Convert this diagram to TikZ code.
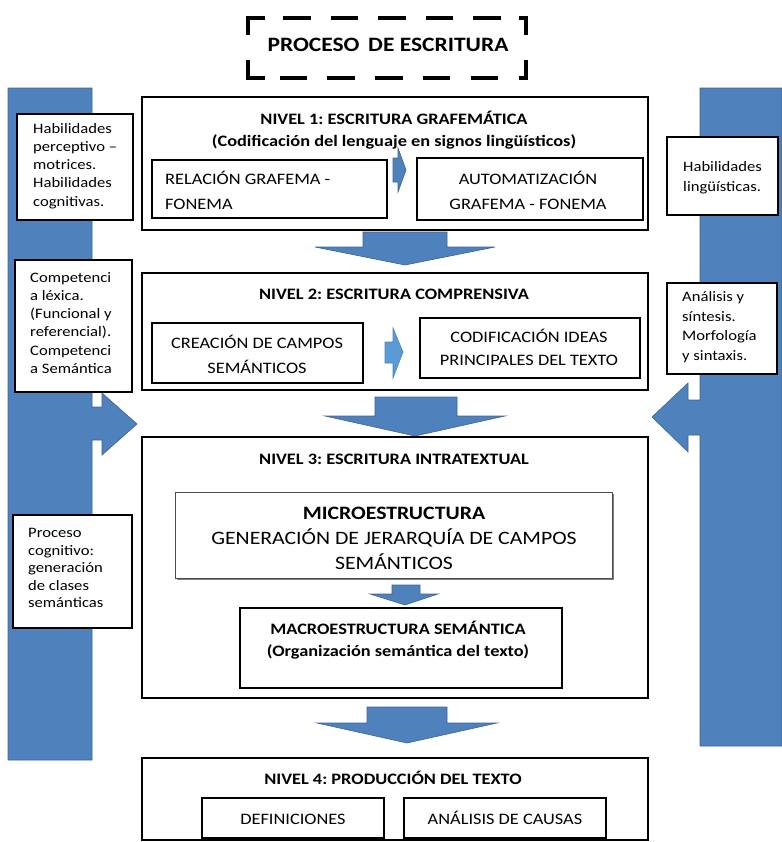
\documentclass[tikz,border=0pt]{standalone}
\usepackage{fontspec}
\setmainfont{Carlito}[FakeStretch=1.15]
\usetikzlibrary{shadows}
\definecolor{barblue}{RGB}{79,129,189}
\definecolor{barline}{RGB}{60,100,150}
\definecolor{lightblue}{RGB}{91,155,213}
\frenchspacing
\begin{document}
\begin{tikzpicture}[x=1bp,y=-1bp,
  lvl/.style={draw=black, line width=2.6bp, anchor=north west, inner sep=0pt, outer sep=0pt},
  inbox/.style={draw=black, line width=1.2bp, anchor=north west, inner sep=0pt, outer sep=0pt},
  thickbox/.style={draw=black, line width=2bp, anchor=north west, inner sep=0pt, outer sep=0pt},
  side/.style={draw=black, line width=1.1bp, fill=white, anchor=north west, inner sep=0pt, outer sep=0pt},
  microbox/.style={draw=black!70, line width=1bp, fill=white, anchor=north west, inner sep=0pt, outer sep=0pt,
    drop shadow={shadow xshift=1.5bp, shadow yshift=-1.5bp, fill=black!50, opacity=1}},
  sidetext/.style={anchor=west, align=left, inner sep=0pt, font=\fontsize{14.5}{18.2}\selectfont},
  lvltitle/.style={anchor=center, inner sep=0pt, font=\fontsize{16}{18}\selectfont\bfseries},
  boxtext/.style={anchor=center, align=center, inner sep=0pt, font=\fontsize{16}{25}\selectfont},
  celltext/.style={anchor=base, inner sep=0pt, font=\fontsize{16}{18}\selectfont},
  blockarrow/.style={fill=barblue, draw=barline, line width=0.6bp, line join=miter},
  smallarrow/.style={fill=lightblue, draw=barblue, line width=0.6bp},
  titledash/.style={line width=3.6bp, black}
]
\useasboundingbox (0,0) rectangle (782,842);

% side bars with their inward arrows
\fill[blockarrow] (8,88) -- (92,88) -- (92,407) -- (102,407) -- (102,393) -- (137,424)
  -- (102,455) -- (102,440) -- (92,440) -- (92,760) -- (8,760) -- cycle;
\fill[blockarrow] (782,88) -- (700,88) -- (700,400) -- (688,400) -- (688,383) -- (652,417)
  -- (688,452) -- (688,435) -- (700,435) -- (700,746) -- (782,746) -- cycle;

% title box: dashed frame with solid corners
\draw[titledash] (248,35) -- (248,18) -- (265,18);
\draw[titledash] (519,18) -- (526,18) -- (526,35);
\draw[titledash] (248,60) -- (248,78) -- (265,78);
\draw[titledash] (519,78) -- (526,78) -- (526,60);
\foreach \a/\b in {283/311, 331/358, 378/406, 426/453, 473/501}
  \draw[titledash] (\a,18) -- (\b,18);
\foreach \a/\b in {280/307, 327/355, 375/403, 423/450, 471/498}
  \draw[titledash] (\a,78) -- (\b,78);
\node[anchor=center, inner sep=0pt, font=\fontsize{20.5}{24}\selectfont\bfseries] (title) at (388,45) {PROCESO\, DE ESCRITURA};

% level frames
\node[lvl, minimum width=506bp, minimum height=133bp] (n1) at (142,97) {};
\node[lvl, minimum width=506bp, minimum height=117bp] (n2) at (142,273) {};
\node[lvl, minimum width=506bp, minimum height=261bp] (n3) at (142,437) {};
\node[lvl, minimum width=506bp, minimum height=82bp] (n4) at (142,758) {};

% level 1
\node[lvltitle] (n1t) at (394,118) {NIVEL 1: ESCRITURA GRAFEMÁTICA};
\node[lvltitle] (n1s) at (394,142) {(Codificación del lenguaje en signos lingüísticos)};
\node[inbox, minimum width=235bp, minimum height=58bp] (rel) at (152,160) {};
\node[anchor=west, align=left, inner sep=0pt, font=\fontsize{16}{25}\selectfont] (relt) at (165,190) {RELACIÓN GRAFEMA -\\FONEMA};
\node[inbox, minimum width=226bp, minimum height=62bp] (auto) at (417,158) {};
\node[boxtext] (autot) at (528,190) {AUTOMATIZACIÓN\\GRAFEMA - FONEMA};
\fill[blockarrow] (393,158) -- (398,158) -- (398,148) -- (406,170) -- (398,192) -- (398,182) -- (393,182) -- cycle;

% level 2
\node[lvltitle] (n2t) at (394,294) {NIVEL 2: ESCRITURA COMPRENSIVA};
\node[inbox, minimum width=211bp, minimum height=60bp] (crea) at (152,323) {};
\node[boxtext] (creat) at (257,354) {CREACIÓN DE CAMPOS\\SEMÁNTICOS};
\node[inbox, minimum width=220bp, minimum height=60bp] (codi) at (420,318) {};
\node[boxtext, font=\fontsize{16}{23}\selectfont] (codit) at (529,347) {CODIFICACIÓN IDEAS\\PRINCIPALES DEL TEXTO};
\fill[smallarrow] (385,342) -- (393,342) -- (393,328) -- (403,352) -- (393,378) -- (393,363) -- (385,363) -- cycle;

% level 3
\node[lvltitle] (n3t) at (394,459) {NIVEL 3: ESCRITURA INTRATEXTUAL};
\node[microbox, minimum width=437bp, minimum height=86bp] (micro) at (175,492) {};
\node[anchor=center, align=center, inner sep=0pt, font=\fontsize{19}{25}\selectfont] (microt) at (394,538)
  {\textbf{MICROESTRUCTURA}\\GENERACIÓN DE JERARQUÍA DE CAMPOS\\SEMÁNTICOS};
\fill[blockarrow] (392,585) -- (420,585) -- (420,594) -- (438,594) -- (405,605) -- (370,594) -- (392,594) -- cycle;
\node[inbox, minimum width=322bp, minimum height=80bp] (macro) at (240,608) {};
\node[anchor=center, align=center, inner sep=0pt, font=\fontsize{16}{22}\selectfont\bfseries] (macrot) at (398,640)
  {MACROESTRUCTURA SEMÁNTICA\\(Organización semántica del texto)};

% level 4
\node[lvltitle] (n4t) at (393,778) {NIVEL 4: PRODUCCIÓN DEL TEXTO};
\node[thickbox, minimum width=182bp, minimum height=40bp] (def) at (202,798) {};
\node[celltext] (deft) at (293,824) {DEFINICIONES};
\node[thickbox, minimum width=202bp, minimum height=40bp] (ana) at (404,798) {};
\node[celltext] (anat) at (505,824) {ANÁLISIS DE CAUSAS};

% arrows between levels
\fill[blockarrow] (363,232) -- (447,232) -- (447,247) -- (495,247) -- (405,265) -- (315,247) -- (363,247) -- cycle;
\fill[blockarrow] (375,397) -- (457,397) -- (457,416) -- (505,416) -- (415,436) -- (325,416) -- (375,416) -- cycle;
\fill[blockarrow] (367,707) -- (447,707) -- (447,723) -- (497,723) -- (407,743) -- (317,723) -- (367,723) -- cycle;

% side notes
\node[side, minimum width=116bp, minimum height=106bp] (s1) at (17,114) {};
\node[sidetext] (s1t) at (33,166) {Habilidades\\perceptivo –\\motrices.\\Habilidades\\cognitivas.};
\node[side, minimum width=117bp, minimum height=132bp] (s2) at (15,260) {};
\node[sidetext] (s2t) at (30,323) {Competenci\\a léxica.\\(Funcional y\\referencial).\\Competenci\\a Semántica};
\node[side, minimum width=119bp, minimum height=113bp] (s3) at (13,515) {};
\node[sidetext, font=\fontsize{14.5}{17.5}\selectfont] (s3t) at (28,568) {Proceso\\cognitivo:\\generación\\de clases\\semánticas};
\node[side, minimum width=111bp, minimum height=78bp] (r1) at (667,137) {};
\node[sidetext, font=\fontsize{14.5}{20}\selectfont] (r1t) at (683,178) {Habilidades\\lingüísticas.};
\node[side, minimum width=110bp, minimum height=91bp] (r2) at (667,283) {};
\node[sidetext, font=\fontsize{14.5}{19.7}\selectfont] (r2t) at (682,327) {Análisis y\\síntesis.\\Morfología\\y sintaxis.};
\end{tikzpicture}
\end{document}
